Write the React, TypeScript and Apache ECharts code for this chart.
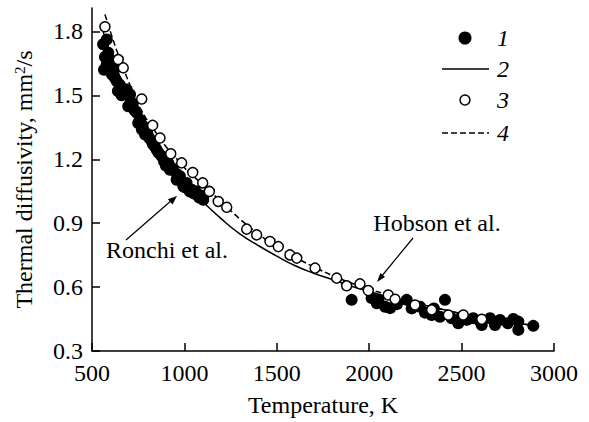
import React, { useEffect, useRef } from "react";
import * as echarts from "echarts";

// Filled circles (1): Ronchi et al. data [T, K ; D, mm2/s]
const ronchiData: number[][] = [
  [560, 1.74], [570, 1.68], [565, 1.62], [580, 1.762], [588, 1.70], [597, 1.668],
  [580, 1.645], [607, 1.629], [608, 1.598], [624, 1.582], [634, 1.566], [620, 1.62],
  [640, 1.52], [650, 1.55], [660, 1.50], [670, 1.53], [688, 1.527], [706, 1.504],
  [696, 1.449], [710, 1.47], [720, 1.46], [730, 1.43], [742, 1.418], [750, 1.37],
  [760, 1.386], [770, 1.34], [778, 1.355], [787, 1.316], [800, 1.32], [810, 1.30],
  [823, 1.284], [830, 1.27], [840, 1.26], [850, 1.245], [860, 1.23], [877, 1.214],
  [890, 1.19], [900, 1.17], [913, 1.183], [922, 1.151], [930, 1.16], [940, 1.151],
  [958, 1.104], [960, 1.13], [976, 1.12], [994, 1.073], [1000, 1.07], [1012, 1.089],
  [1020, 1.06], [1030, 1.049], [1039, 1.057], [1050, 1.04], [1060, 1.05], [1066, 1.034],
  [1080, 1.02], [1090, 1.03], [1100, 1.02], [1102, 1.01],
  [1905, 0.54], [2013, 0.548], [2041, 0.524], [2050, 0.54], [2086, 0.508], [2113, 0.501],
  [2150, 0.52], [2203, 0.54], [2230, 0.50], [2275, 0.508], [2302, 0.48], [2338, 0.469],
  [2350, 0.50], [2383, 0.461], [2410, 0.54], [2446, 0.454], [2482, 0.43], [2500, 0.46],
  [2528, 0.446], [2563, 0.454], [2600, 0.44], [2609, 0.422], [2654, 0.454], [2681, 0.422],
  [2708, 0.446], [2750, 0.43], [2780, 0.45], [2807, 0.438], [2807, 0.399], [2888, 0.418],
];

// Solid line (2): Ronchi et al. fit
const ronchiFit: number[][] = [
  [560, 1.80], [600, 1.70], [650, 1.59], [700, 1.50], [750, 1.41], [800, 1.34],
  [850, 1.27], [900, 1.20], [950, 1.14], [1000, 1.09], [1100, 1.00], [1200, 0.92],
  [1300, 0.85], [1400, 0.795], [1500, 0.745], [1600, 0.70], [1700, 0.665], [1800, 0.635],
  [1900, 0.605], [2000, 0.58], [2100, 0.555], [2200, 0.535], [2300, 0.515], [2400, 0.495],
  [2500, 0.475], [2600, 0.46], [2700, 0.445], [2800, 0.43], [2900, 0.42],
];

// Open circles (3): Hobson et al. data
const hobsonData: number[][] = [
  [570, 1.822], [642, 1.668], [669, 1.629], [769, 1.483], [828, 1.359], [868, 1.30],
  [926, 1.226], [985, 1.183], [1045, 1.138], [1099, 1.089], [1135, 1.049], [1183, 1.002],
  [1229, 0.975], [1337, 0.872], [1391, 0.845], [1463, 0.814], [1508, 0.79], [1571, 0.751],
  [1608, 0.736], [1707, 0.689], [1824, 0.642], [1878, 0.606], [1950, 0.615], [1995, 0.584],
  [2103, 0.563], [2140, 0.543], [2248, 0.516], [2338, 0.493], [2428, 0.469], [2509, 0.469],
  [2609, 0.449],
];

// Dashed line (4): Hobson et al. fit
const hobsonFit: number[][] = [
  [570, 1.88], [630, 1.72], [700, 1.56], [760, 1.44], [850, 1.32], [900, 1.26],
  [950, 1.21], [1000, 1.16], [1100, 1.08], [1200, 1.00], [1300, 0.92], [1400, 0.85],
  [1500, 0.79], [1600, 0.74], [1700, 0.695], [1800, 0.655], [1900, 0.62], [2000, 0.59],
  [2100, 0.565], [2200, 0.54], [2300, 0.515], [2400, 0.495], [2500, 0.475], [2600, 0.455],
  [2700, 0.44], [2800, 0.43], [2900, 0.42],
];

const yTicks = [0.3, 0.6, 0.9, 1.2, 1.5, 1.8];
const legendLabels = ["1", "2", "3", "4"];

const FONT = '"Liberation Serif", "Times New Roman", serif';
const FS = 24;

export default function App() {
  const ref = useRef<HTMLDivElement>(null);
  useEffect(() => {
    document.body.style.margin = "0";
    if (!ref.current) return;
    const chart = echarts.init(ref.current, null, { renderer: "svg" });
    const axisCommon = {
      axisLine: { show: true, lineStyle: { color: "#000", width: 1.5 } },
      axisTick: { show: true, inside: true, length: 8, lineStyle: { color: "#000", width: 1.5 } },
      splitLine: { show: false },
    };
    const ts = { color: "#000", fontFamily: FONT, fontSize: FS };
    chart.setOption({
      animation: false,
      backgroundColor: "#fff",
      grid: { left: 92, right: 35, top: 8, bottom: 71, containLabel: false },
      xAxis: {
        type: "value",
        min: 500,
        max: 3000,
        interval: 500,
        ...axisCommon,
        axisLabel: { ...ts, margin: 10, formatter: (v: number) => String(v) },
        name: "Temperature, K",
        nameLocation: "middle",
        nameGap: 42,
        nameTextStyle: ts,
      },
      yAxis: {
        type: "value",
        min: 0.3,
        max: 1.91,
        ...axisCommon,
        axisTick: { ...axisCommon.axisTick, customValues: yTicks },
        axisLabel: { ...ts, margin: 9, customValues: yTicks, formatter: (v: number) => v.toFixed(1) },
        name: "{a|Thermal diffusivity, mm}{s|2}{a|/s}",
        nameLocation: "middle",
        nameGap: 56,
        nameTextStyle: {
          ...ts,
          rich: {
            a: { fontFamily: FONT, fontSize: FS, color: "#000" },
            s: { fontFamily: FONT, fontSize: 15, color: "#000", verticalAlign: "top", padding: [0, 0, 9, 0] },
          },
        },
      },
      series: [
        {
          name: "2",
          type: "line",
          data: ronchiFit,
          showSymbol: false,
          smooth: true,
          lineStyle: { color: "#000", width: 1.5 },
          z: 1,
        },
        {
          name: "4",
          type: "line",
          data: hobsonFit,
          showSymbol: false,
          smooth: true,
          lineStyle: { color: "#000", width: 1.5, type: [6, 3] },
          z: 1,
        },
        {
          name: "1",
          type: "scatter",
          data: ronchiData,
          symbol: "circle",
          symbolSize: 12,
          itemStyle: { color: "#000", opacity: 1 },
          z: 2,
        },
        {
          name: "3",
          type: "scatter",
          data: hobsonData,
          symbol: "circle",
          symbolSize: 10,
          itemStyle: { color: "#fff", borderColor: "#000", borderWidth: 1.5, opacity: 1 },
          z: 3,
        },
      ],
      graphic: [
        { type: "circle", shape: { cx: 465, cy: 38, r: 6.5 }, style: { fill: "#000" } },
        { type: "line", shape: { x1: 442, y1: 69, x2: 489, y2: 69 }, style: { stroke: "#000", lineWidth: 1.5 } },
        { type: "circle", shape: { cx: 465, cy: 100, r: 5 }, style: { fill: "#fff", stroke: "#000", lineWidth: 1.5 } },
        { type: "line", shape: { x1: 442, y1: 133, x2: 489, y2: 133 }, style: { stroke: "#000", lineWidth: 1.5, lineDash: [6, 3] } },
        ...legendLabels.map((t, i) => ({
          type: "text",
          x: 497,
          y: [38, 69, 100, 133][i],
          style: { text: t, fill: "#000", font: `italic ${FS}px ${FONT}`, textVerticalAlign: "middle", textAlign: "left" },
        })),
        { type: "text", x: 167, y: 250, style: { text: "Ronchi et al.", fill: "#000", font: `${FS}px ${FONT}`, textAlign: "center", textVerticalAlign: "middle" } },
        { type: "line", shape: { x1: 126, y1: 240, x2: 172, y2: 200 }, style: { stroke: "#000", lineWidth: 1.2 } },
        { type: "polygon", shape: { points: [[177, 196], [172.5, 204.5], [167.9, 199.3]] }, style: { fill: "#000" } },
        { type: "text", x: 437, y: 223, style: { text: "Hobson et al.", fill: "#000", font: `${FS}px ${FONT}`, textAlign: "center", textVerticalAlign: "middle" } },
        { type: "line", shape: { x1: 413, y1: 238, x2: 381, y2: 277 }, style: { stroke: "#000", lineWidth: 1.2 } },
        { type: "polygon", shape: { points: [[377, 282], [385, 276.9], [380.4, 273.1]] }, style: { fill: "#000" } },
      ],
    });
    return () => chart.dispose();
  }, []);
  return <div ref={ref} style={{ width: 589, height: 422 }} />;
}
